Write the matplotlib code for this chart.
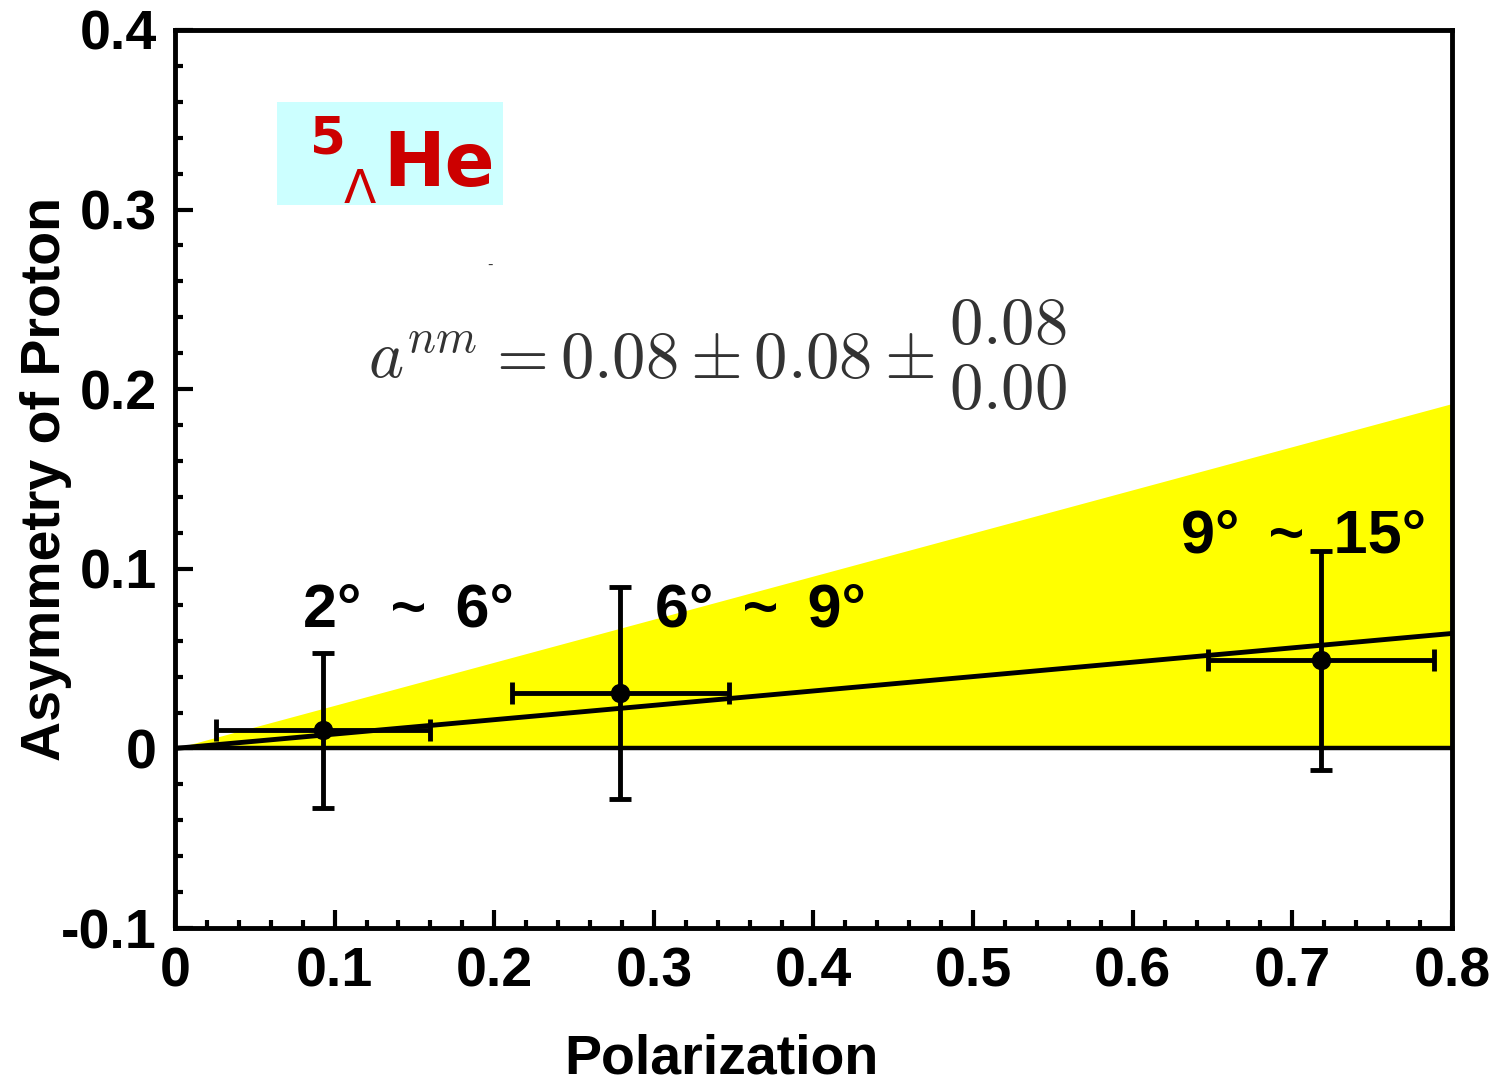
import numpy as np
import matplotlib
matplotlib.use("Agg")
import matplotlib.pyplot as plt
from matplotlib.patches import Rectangle

# measured points: polarization, asymmetry and their errors
pol = [0.093, 0.279, 0.718]
pol_err = [0.067, 0.068, 0.071]
asym = [0.010, 0.031, 0.049]
asym_err = [0.043, 0.059, 0.061]
angle_labels = ["2\u00b0 ~ 6\u00b0", "6\u00b0 ~ 9\u00b0", "9\u00b0 ~ 15\u00b0"]
label_pos = [(0.080, 0.068), (0.301, 0.068), (0.630, 0.109)]

# fitted slope and the upper edge of the allowed band
a_fit = 0.08
a_upper = 0.08 + 0.08 + 0.08
x_range = [0.0, 0.8]

xticks = [0, 0.1, 0.2, 0.3, 0.4, 0.5, 0.6, 0.7, 0.8]
xtick_labels = ["0", "0.1", "0.2", "0.3", "0.4", "0.5", "0.6", "0.7", "0.8"]
yticks = [-0.1, 0, 0.1, 0.2, 0.3, 0.4]
ytick_labels = ["-0.1", "0", "0.1", "0.2", "0.3", "0.4"]

plt.rcParams['font.family'] = ['Liberation Sans', 'DejaVu Sans']
plt.rcParams['mathtext.fontset'] = 'cm'

fig = plt.figure(figsize=(14.93, 10.89), dpi=100)
ax = fig.add_axes([0.1172, 0.1478, 0.8553, 0.8247])

x = np.array(x_range)
ax.fill_between(x, 0, a_upper * x, color="#ffff00", lw=0, zorder=1)
ax.axhline(0, color="black", lw=3.2, zorder=2)
ax.plot(x, a_fit * x, color="black", lw=3.5, zorder=3)

ax.errorbar(pol, asym, xerr=pol_err, yerr=asym_err, fmt="o", color="black",
            ms=13, elinewidth=3.5, capsize=8, capthick=3.5, zorder=4)

for lab, (lx, ly) in zip(angle_labels, label_pos):
    ax.text(lx, ly, lab.replace(" ~ ", " \u2009~\u2009 "), fontsize=44,
            fontweight="bold", ha="left", va="baseline", zorder=5)

ax.set_xlim(x_range)
ax.set_ylim(-0.1, 0.4)
ax.set_xticks(xticks)
ax.set_xticklabels(xtick_labels)
ax.set_yticks(yticks)
ax.set_yticklabels(ytick_labels)
ax.set_xticks(np.arange(0, 0.81, 0.02), minor=True)
ax.set_yticks(np.arange(-0.1, 0.41, 0.02), minor=True)
ax.tick_params(which="both", direction="in", width=3, top=False, right=False)
ax.tick_params(which="major", length=13, labelsize=40, pad=13)
ax.tick_params(which="minor", length=6)
for lab in ax.get_xticklabels() + ax.get_yticklabels():
    lab.set_fontweight("bold")
for s in ax.spines.values():
    s.set_linewidth(3.5)

ax.set_xlabel("Polarization", fontsize=40, fontweight="bold")
ax.xaxis.set_label_coords(0.428, -0.117)
ax.set_ylabel("Asymmetry of Proton", fontsize=40, fontweight="bold")
ax.yaxis.set_label_coords(-0.081, 0.5)

# hypernucleus label in a cyan box
ax.add_patch(Rectangle((0.0799, 0.805), 0.177, 0.115, transform=ax.transAxes,
                       facecolor="#ccffff", edgecolor="none", zorder=5))
ax.text(0.1055, 0.862, "5", transform=ax.transAxes, fontsize=37, fontweight="bold",
        color="#cc0000", ha="left", va="baseline", family="DejaVu Sans", zorder=6)
ax.text(0.132, 0.807, "\u039b", transform=ax.transAxes, fontsize=34,
        color="#cc0000", ha="left", va="baseline", family="DejaVu Sans", zorder=6)
ax.text(0.163, 0.826, "He", transform=ax.transAxes, fontsize=53, fontweight="bold",
        color="#cc0000", ha="left", va="baseline", family="DejaVu Sans", zorder=6)

# fit result
eq_color = "#333333"
ax.text(0.151, 0.613, r"$a^{nm}$", transform=ax.transAxes, fontsize=48,
        color=eq_color, ha="left", va="baseline")
ax.text(0.2467, 0.733, "-", transform=ax.transAxes, fontsize=12,
        color=eq_color, ha="center", va="baseline")
ax.text(0.2425, 0.613, r"$=0.08\pm0.08\pm$", transform=ax.transAxes, fontsize=48,
        color=eq_color, ha="left", va="baseline")
ax.text(0.606, 0.650, r"$0.08$", transform=ax.transAxes, fontsize=48,
        color=eq_color, ha="left", va="baseline")
ax.text(0.606, 0.578, r"$0.00$", transform=ax.transAxes, fontsize=48,
        color=eq_color, ha="left", va="baseline")

fig.savefig("out.png", dpi=100)
